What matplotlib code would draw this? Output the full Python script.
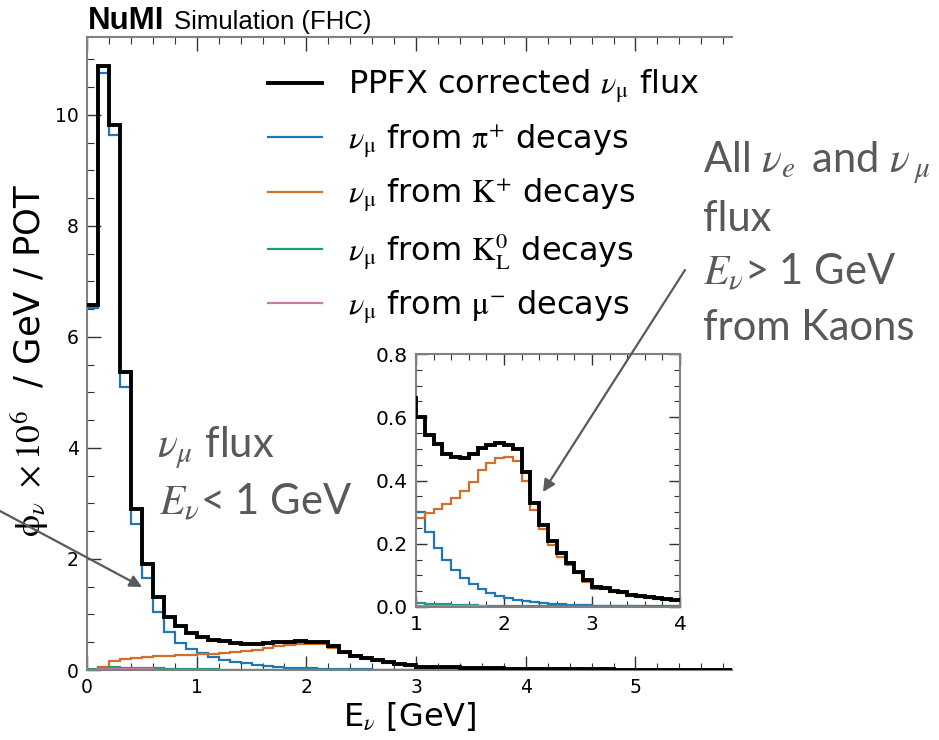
import numpy as np
import matplotlib
matplotlib.use("Agg")
import matplotlib.pyplot as plt
from matplotlib.patches import FancyArrowPatch
from matplotlib.ticker import MultipleLocator, FormatStrFormatter

plt.rcParams['font.family'] = ['DejaVu Sans']
plt.rcParams['mathtext.fontset'] = 'stix'

# ---- data (flux x1e6 / GeV / POT), 0.1 GeV bins from 0 to 6 GeV ----
bin_edges = [round(0.1 * i, 1) for i in range(61)]

total = [6.58, 10.87, 9.82, 5.36, 2.90, 1.91, 1.32, 0.96, 0.79, 0.66,
         0.60, 0.543, 0.514, 0.485, 0.475, 0.472, 0.483, 0.504, 0.512, 0.517,
         0.512, 0.500, 0.427, 0.329, 0.259, 0.209, 0.172, 0.140, 0.112, 0.084,
         0.063, 0.061, 0.050, 0.047, 0.037, 0.035, 0.032, 0.028, 0.025, 0.023,
         0.021, 0.019, 0.017, 0.015, 0.014, 0.012, 0.011, 0.010, 0.009, 0.008,
         0.007, 0.006, 0.006, 0.005, 0.005, 0.004, 0.004, 0.003, 0.003, 0.003]

from_pi = [6.52, 10.75, 9.63, 5.10, 2.63, 1.65, 1.04, 0.68, 0.48, 0.37,
           0.300, 0.237, 0.188, 0.148, 0.118, 0.092, 0.072, 0.058, 0.045, 0.035,
           0.028, 0.023, 0.019, 0.016, 0.013, 0.011, 0.008, 0.007, 0.006, 0.005,
           0.004, 0.004, 0.003, 0.003, 0.003, 0.002, 0.002, 0.002, 0.002, 0.002,
           0.002, 0.002, 0.001, 0.001, 0.001, 0.001, 0.001, 0.001, 0.001, 0.001,
           0.001, 0.001, 0.001, 0.001, 0.001, 0.001, 0.001, 0.001, 0.001, 0.001]

from_K = [0.0, 0.06, 0.17, 0.20, 0.22, 0.235, 0.245, 0.255, 0.265, 0.275,
          0.282, 0.296, 0.310, 0.327, 0.345, 0.367, 0.396, 0.433, 0.454, 0.470,
          0.475, 0.462, 0.400, 0.308, 0.247, 0.195, 0.158, 0.132, 0.106, 0.079,
          0.058, 0.056, 0.046, 0.043, 0.034, 0.032, 0.029, 0.026, 0.023, 0.021,
          0.019, 0.017, 0.015, 0.014, 0.013, 0.011, 0.010, 0.009, 0.008, 0.007,
          0.006, 0.006, 0.005, 0.004, 0.004, 0.004, 0.003, 0.003, 0.002, 0.002]

from_K0L = [0.01, 0.04, 0.05, 0.045, 0.04, 0.035, 0.03, 0.025, 0.02, 0.016,
            0.012, 0.011, 0.009, 0.008, 0.006, 0.005, 0.005, 0.004, 0.004, 0.003,
            0.003, 0.003, 0.003, 0.003, 0.003, 0.002, 0.002, 0.002, 0.002, 0.002,
            0.002, 0.002, 0.002, 0.002, 0.002, 0.001, 0.001, 0.001, 0.001, 0.001,
            0.001, 0.001, 0.001, 0.001, 0.001, 0.001, 0.001, 0.001, 0.001, 0.001,
            0.001, 0.001, 0.001, 0.001, 0.001, 0.001, 0.001, 0.001, 0.001, 0.001]

from_mu = [0.005, 0.02, 0.02, 0.015, 0.012, 0.01, 0.008, 0.006, 0.005, 0.004,
           0.003, 0.003, 0.003, 0.002, 0.002, 0.002, 0.002, 0.002, 0.001, 0.001,
           0.001, 0.001, 0.001, 0.001, 0.001, 0.001, 0.001, 0.001, 0.001, 0.001,
           0.0, 0.0, 0.0, 0.0, 0.0, 0.0, 0.0, 0.0, 0.0, 0.0,
           0.0, 0.0, 0.0, 0.0, 0.0, 0.0, 0.0, 0.0, 0.0, 0.0,
           0.0, 0.0, 0.0, 0.0, 0.0, 0.0, 0.0, 0.0, 0.0, 0.0]

labels = [r'PPFX corrected $\nu_\mathrm{\mu}$ flux',
          r'$\nu_\mathrm{\mu}$ from $\mathrm{\pi^{+}}$ decays',
          r'$\nu_\mathrm{\mu}$ from $\mathrm{K^{+}}$ decays',
          r'$\nu_\mathrm{\mu}$ from $\mathrm{K^{0}_{L}}$ decays',
          r'$\nu_\mathrm{\mu}$ from $\mathrm{\mu^{-}}$ decays']
colors = ['black', '#1f77b4', '#d0702a', '#1b9e77', '#cc79a7']

W, H = 939, 740
fig = plt.figure(figsize=(W / 100, H / 100), dpi=100)

SPINE = '#808080'
GRAY = '#595959'


def style_axes(ax, fs):
    for s in ax.spines.values():
        s.set_color(SPINE)
        s.set_linewidth(1.5)
    ax.tick_params(which='both', direction='in', top=True, right=True,
                   color='#333333', labelsize=fs, pad=6)
    ax.tick_params(which='major', length=10, width=1.0)
    ax.tick_params(which='minor', length=5, width=0.8)


def draw_hists(ax, lw_tot, lw_comp):
    series = [from_pi, from_K, from_K0L, from_mu]
    handles = []
    for vals, c in zip(series, colors[1:]):
        h = ax.stairs(vals, bin_edges, baseline=None, color=c, lw=lw_comp, zorder=2)
        handles.append(h)
    ht = ax.stairs(total, bin_edges, baseline=None, color='black', lw=lw_tot, zorder=3)
    return [ht] + handles


# ---- main axes ----
ax = fig.add_axes([87 / W, 1 - 670 / H, 645 / W, 633 / H])
hs = draw_hists(ax, 2.8, 1.6)
ax.set_xlim(0, 5.88)
ax.set_ylim(0, 11.4)
ax.xaxis.set_major_locator(MultipleLocator(1))
ax.xaxis.set_minor_locator(MultipleLocator(0.2))
ax.yaxis.set_major_locator(MultipleLocator(2))
ax.yaxis.set_minor_locator(MultipleLocator(0.5))
style_axes(ax, 13.5)
ax.spines['right'].set_visible(False)
ax.tick_params(which='both', right=False)
ax.set_xlabel(r'E$_\nu$ [GeV]', fontsize=23, labelpad=2)

leg = ax.legend(hs, labels, loc='upper left', bbox_to_anchor=(268 / W, 1 - 68 / H),
                bbox_transform=fig.transFigure, frameon=False, fontsize=23,
                handlelength=1.7, handletextpad=0.8, labelspacing=0.52,
                borderaxespad=0, borderpad=0)

fig.text(30 / W, 1 - 360 / H, r'$\mathrm{\phi}_\nu\ \times 10^6$  / GeV / POT',
         rotation=90, ha='center', va='center', fontsize=25.5)

# ---- title ----
fig.text(88 / W, 1 - 29 / H, 'NuMI', fontsize=22.5, fontweight='bold',
         family='Liberation Sans', va='baseline', ha='left')
fig.text(174 / W, 1 - 29 / H, 'Simulation (FHC)', fontsize=18.5,
         family='Liberation Sans', va='baseline', ha='left')

# ---- inset ----
axi = fig.add_axes([416 / W, 1 - 607 / H, 264 / W, 253 / H])
draw_hists(axi, 2.8, 1.6)
axi.set_xlim(1, 4)
axi.set_ylim(0, 0.8)
axi.xaxis.set_major_locator(MultipleLocator(1))
axi.xaxis.set_minor_locator(MultipleLocator(0.2))
axi.yaxis.set_major_locator(MultipleLocator(0.2))
axi.yaxis.set_minor_locator(MultipleLocator(0.05))
axi.yaxis.set_major_formatter(FormatStrFormatter('%.1f'))
style_axes(axi, 14.5)
axi.tick_params(which='major', length=8)
axi.tick_params(which='minor', length=4)

# ---- annotations ----
ann_kw = dict(color=GRAY, family=['Lato', 'DejaVu Sans'], va='baseline', ha='left',
              fontsize=30)
fig.text(157 / W, 1 - 457 / H, r'$\nu_{\mu}$ flux', **ann_kw)
fig.text(159 / W, 1 - 515 / H, r'$E_{\nu}$< 1 GeV', **ann_kw)

fig.text(703 / W, 1 - 172 / H, r'All $\nu_{e}\,$ and $\nu_{\;\mu}$', **ann_kw)
fig.text(703 / W, 1 - 231 / H, 'flux', **ann_kw)
fig.text(703 / W, 1 - 285 / H, r'$E_{\nu}$> 1 GeV', **ann_kw)
fig.text(703 / W, 1 - 340 / H, 'from Kaons', **ann_kw)

for (x0, y0), (x1, y1) in [((0, 511), (142, 587)), ((685, 270), (543, 492))]:
    arr = FancyArrowPatch((x0 / W, 1 - y0 / H), (x1 / W, 1 - y1 / H),
                          transform=fig.transFigure, arrowstyle='-|>',
                          mutation_scale=18, color=GRAY, lw=1.6,
                          shrinkA=0, shrinkB=0, zorder=10)
    fig.add_artist(arr)

fig.savefig('out.png', dpi=100)
